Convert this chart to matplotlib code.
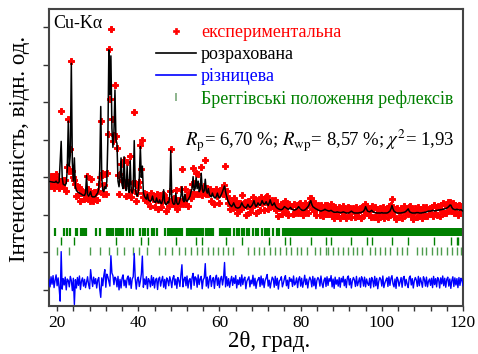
import numpy as np
import matplotlib
matplotlib.use('Agg')
import matplotlib.pyplot as plt
from matplotlib.lines import Line2D
from matplotlib.ticker import MultipleLocator

plt.rcParams['font.family'] = ['Liberation Serif', 'DejaVu Serif']
plt.rcParams['mathtext.fontset'] = 'stix'

# ---------------- data ----------------
two_theta_low = np.linspace(18.0, 62.0, 177)       # 0.25 deg step
two_theta_high = np.linspace(62.25, 120.0, 232)    # 0.25 deg step

calc_low = [
    289, 289, 288, 288, 287, 287, 287, 290, 286, 285, 288, 340,
    396, 300, 282, 280, 279, 285, 320, 450, 330, 360, 604, 340,
    290, 352, 275, 265, 262, 260, 258, 257, 255, 253, 252, 252,
    258, 305, 255, 250, 255, 262, 250, 248, 248, 248, 250, 255,
    258, 270, 320, 489, 300, 265, 262, 275, 270, 290, 400, 640,
    520, 624, 430, 380, 420, 533, 400, 390, 290, 275, 300, 352,
    280, 270, 355, 275, 265, 330, 270, 260, 345, 265, 258, 270,
    398, 275, 255, 250, 260, 300, 382, 300, 330, 260, 250, 245,
    242, 255, 240, 238, 236, 240, 250, 238, 235, 233, 245, 235,
    232, 240, 232, 230, 240, 267, 235, 228, 228, 235, 232, 250,
    371, 245, 232, 228, 230, 258, 232, 228, 230, 240, 250, 275,
    240, 235, 255, 238, 236, 240, 245, 250, 262, 270, 302, 265,
    270, 300, 270, 290, 262, 268, 311, 270, 260, 265, 295, 265,
    258, 270, 255, 250, 248, 258, 250, 246, 245, 250, 258, 248,
    245, 250, 255, 262, 270, 277, 262, 250, 240]
calc_high = [
    234, 228, 225, 222, 226, 232, 225, 220, 219, 218, 219, 220,
    225, 232, 226, 222, 220, 218, 222, 228, 223, 220, 222, 225,
    230, 238, 228, 222, 226, 232, 228, 225, 230, 238, 232, 228,
    230, 235, 229, 225, 232, 240, 230, 225, 228, 232, 225, 220,
    218, 216, 215, 214, 214, 215, 218, 222, 220, 218, 216, 215,
    217, 220, 216, 214, 213, 213, 214, 215, 218, 222, 218, 215,
    213, 212, 212, 213, 215, 218, 221, 225, 232, 238, 228, 222,
    220, 218, 216, 215, 213, 212, 211, 210, 211, 212, 213, 215,
    213, 212, 211, 210, 211, 212, 210, 208, 207, 207, 207, 208,
    207, 207, 206, 206, 207, 208, 207, 206, 205, 205, 205, 206,
    208, 210, 208, 206, 205, 205, 205, 205, 205, 206, 206, 207,
    208, 210, 214, 222, 215, 210, 209, 208, 210, 212, 209, 207,
    206, 206, 205, 205, 205, 205, 205, 206, 205, 205, 205, 205,
    205, 206, 208, 210, 216, 225, 216, 210, 208, 206, 205, 205,
    205, 205, 205, 206, 206, 207, 208, 210, 213, 216, 210, 207,
    206, 205, 205, 205, 205, 206, 206, 206, 205, 205, 205, 206,
    206, 207, 207, 208, 209, 210, 210, 210, 211, 212, 211, 211,
    211, 212, 212, 213, 213, 214, 214, 215, 215, 216, 217, 218,
    220, 222, 226, 226, 220, 216, 215, 214, 214, 215, 214, 213,
    213, 214, 212, 210]

diff_low = [
    8, -12, 15, -5, 18, -14, 6, 20, -9, 12, -16, -50,
    82, -18, 10, -7, 14, -20, 9, 5, -12, 16, 5, -22,
    11, -59, 7, -15, 13, -8, 17, -19, 4, 12, -10, 8,
    -14, 0, 15, -6, -17, 34, 9, -11, 14, -4, 10, -15,
    6, 13, -18, -40, 12, -9, 18, 34, -13, 22, 15, 2,
    -10, 71, 25, 18, -6, 14, 10, -12, 16, -20, 8, -15,
    12, 20, -9, 6, -14, 11, 17, -7, 13, -16, 9, 15,
    77, 10, -18, 8, 14, -11, 3, 22, 70, -13, 9, -6,
    15, -17, 10, 4, -12, 18, -8, 13, -15, 7, 11, -19,
    9, 14, -10, 5, 16, -13, 8, -17, 12, 6, -9, 15,
    4, -14, 11, 18, -7, 9, -16, 13, 5, -11, 20, 47,
    -12, 8, 14, -9, 17, -15, 6, 10, -18, 13, 24, -8,
    15, 11, -13, 20, -6, 9, 16, -17, 7, 12, 50, -10,
    14, -15, 8, 18, -11, 6, 13, -16, 10, 19, -8, 12,
    -14, 9, 16, -7, 11, 53, -12, 15, -9]
diff_high = [
    10, -13, 4, 16, -8, 12, -3, 18, -15, 7, -6, 13,
    -10, 20, -6, 9, 14, -17, 3, 9, 15, -12, 6, -4,
    19, -9, 11, -16, 2, 8, 13, -11, 17, -7, 10, -14,
    5, 12, 21, -10, 6, -15, 1, 14, 9, -13, 16, -8,
    11, -18, 4, 7, 15, -12, -2, 10, 18, -9, 6, -16,
    13, 3, 9, -11, 17, -7, -1, 12, -14, 8, 15, -10,
    11, -13, 2, 19, -6, 9, -15, 4, 14, 7, -12, 16,
    -9, 11, -17, 5, 13, 8, -10, 17, -3, -14, 6, 12,
    -11, 15, -8, 10, 3, 18, -12, 9, -16, 14, -5, 7,
    -10, 13, -13, 11, 1, 16, -9, 8, -14, 12, 17, -7,
    10, -15, 4, 13, 6, -11, 16, -9, 2, 12, -13, 15,
    8, -10, 14, -12, 9, -3, -8, 11, -15, 13, 6, -12,
    16, -9, 11, -17, 3, 13, 8, -10, 17, -14, -2, 6,
    12, -11, 15, -8, 10, 18, -4, -12, 9, -16, 14, 7,
    -10, 2, 13, -13, 11, 16, -9, 8, -5, -14, 12, 17,
    -7, 10, -15, 4, 13, 6, -11, 16, -9, 12, 1, -13,
    15, 8, -10, 14, -12, 3, 9, -8, 11, -14, 16, -6,
    10, -12, 13, 7, -15, 12, -4, 17, -9, 11, -13, 8,
    14, -10, 9, -16, 5, 15, -11, 12, -7, 10, -14, 13,
    -8, 11, 6, -9]
diff_offset = 20

bragg_phase1 = [
    19.5, 21.7, 22.4, 23.2, 24.7, 25.0, 25.9, 26.3, 26.8, 27.2, 29.6, 30.5,
    32.2, 32.5, 32.8, 33.1, 33.3, 33.7, 34.6, 35.1, 35.6, 35.9, 36.3, 37.1,
    37.9, 38.6, 40.4, 41.1, 41.6, 42.5, 43.3, 43.9, 44.7, 46.5, 47.3, 47.8,
    48.4, 48.8, 49.2, 49.7, 50.2, 50.7, 52.0, 52.5, 52.9, 53.4, 53.9, 54.4,
    54.9, 55.4, 56.0, 56.7, 57.2, 57.7, 58.1, 58.5, 60.2, 60.5, 60.8, 61.1,
    61.4, 61.7, 62.0, 62.3, 62.6, 63.6, 64.2, 64.9, 65.5, 66.0, 66.7, 67.3,
    68.3, 69.0, 69.6, 70.4, 71.2, 71.8, 72.3, 73.1, 74.1, 74.7, 75.6, 75.9,
    76.3, 76.6, 77.0, 77.4, 77.7, 78.1, 78.4, 78.8, 79.2, 79.5, 79.9, 80.2,
    80.6, 80.9, 81.3, 81.7, 82.0, 82.4, 82.7, 83.1, 83.5, 83.8, 84.2, 84.5,
    84.9, 85.2, 85.6, 86.0, 86.3, 86.7, 87.0, 87.4, 87.8, 88.1, 88.5, 88.8,
    89.2, 89.5, 89.9, 90.3, 90.6, 91.0, 91.3, 91.7, 92.0, 92.4, 92.8, 93.1,
    93.5, 93.8, 94.2, 94.6, 94.9, 95.3, 95.6, 96.0, 96.3, 96.7, 97.1, 97.4,
    97.8, 98.1, 98.5, 98.8, 99.2, 99.6, 99.9, 100.3, 100.6, 101.0, 101.3,
    101.7, 102.1, 102.4, 102.8, 103.1, 103.5, 103.8, 104.2, 104.6, 104.9,
    105.3, 105.6, 106.0, 106.3, 106.7, 107.1, 107.4, 107.8, 108.1, 108.5,
    108.8, 109.2, 109.6, 109.9, 110.3, 110.6, 111.0, 111.3, 111.7, 112.1,
    112.4, 112.8, 113.1, 113.5, 113.8, 114.2, 114.6, 114.9, 115.3, 115.6,
    116.0, 116.3, 116.7, 117.1, 117.4, 117.8, 118.1, 118.5, 118.8, 119.2,
    119.6, 119.9]
bragg_phase2 = [20.9, 24.1, 34.4, 40.6, 42.3, 49.3, 54.1, 55.6, 61.5, 65.6,
                72.3, 76.1, 77.4, 82.5, 86.2, 87.6, 92.4, 96.3, 97.5, 102.6,
                106.4, 112.9, 117.0, 118.4, 118.8]
bragg_phase3 = [19.9, 23.0, 28.1, 30.6, 32.7, 34.7, 36.6, 38.6, 40.2, 42.1,
                45.2, 46.7, 48.4, 50.0, 51.5, 53.1, 54.5, 55.8, 57.1, 58.3,
                59.6, 60.8, 62.2, 63.4, 67.1, 68.5, 69.7, 71.0, 72.4, 73.7,
                74.9, 76.4, 77.6, 79.0, 80.2, 81.6, 83.5, 84.7, 86.2, 86.8,
                88.0, 89.3, 90.5, 91.7, 92.8, 94.0, 95.0, 97.1, 98.3, 99.5,
                100.8, 102.0, 103.8, 104.9, 106.3, 108.6, 109.8, 111.0, 112.3,
                113.5, 114.7, 116.0, 117.2, 118.4, 119.6]

labels = ['експериментальна', 'розрахована', 'різницева',
          'Бреггівські положення рефлексів']
label_colors = ['#ff0000', '#000000', '#0000ff', '#008000']

assert len(calc_low) == len(two_theta_low) == len(diff_low)
assert len(calc_high) == len(two_theta_high) == len(diff_high)

two_theta = np.concatenate([two_theta_low, two_theta_high])
calc = np.array(calc_low + calc_high, dtype=float)
diff = np.array(diff_low + diff_high, dtype=float)
obs = calc + diff

# ---------------- figure ----------------
W, H = 478, 354
fig = plt.figure(figsize=(W / 100, H / 100), dpi=100)
ax = fig.add_axes([49 / W, (H - 306) / H, 414 / W, 297 / H])

ax.plot(two_theta, obs, ls='none', marker='P', ms=4.8, mew=0.7,
        color='#ff0000', zorder=2)
ax.plot(two_theta, calc, color='#000000', lw=1.1, zorder=3)
ax.plot(two_theta, diff + diff_offset, color='#0000ff', lw=1.0, zorder=3)

ax.vlines(bragg_phase1, 143.5, 164.8, color='#008000', lw=1.6, zorder=2)
ax.vlines(bragg_phase2, 119.5, 140.8, color='#008000', lw=1.0, zorder=2)
ax.vlines(bragg_phase3, 92.8, 114.1, color='#2e8b2e', lw=1.0, alpha=0.85,
          zorder=2)

ax.set_xlim(18, 120)
ax.set_ylim(-43, 749)

ax.xaxis.set_major_locator(MultipleLocator(20))
ax.xaxis.set_minor_locator(MultipleLocator(4))
ax.set_yticks(np.arange(0, 701, 100))
ax.set_yticklabels([])
ax.tick_params(axis='x', which='both', direction='out', length=3.5,
               width=1.0, color='#333333', labelsize=12.5, pad=3,
               top=False)
ax.tick_params(axis='y', which='both', direction='out', length=4.5,
               width=1.0, color='#333333', right=False)
for s in ax.spines.values():
    s.set_color('#444444')
    s.set_linewidth(1.5)

ax.set_xlabel('2θ, град.', fontsize=16.5, va='center')
ax.xaxis.set_label_coords((269.5 - 49) / 414, -35 / 297)
ax.set_ylabel('Інтенсивність, відн. од.', fontsize=16.5, va='center')
ax.yaxis.set_label_coords((20 - 49) / 414, (306 - 148.5) / 297)

handles = [
    Line2D([], [], ls='none', marker='P', ms=4.5, mew=0.5, color='#ff0000'),
    Line2D([], [], color='#000000', lw=1.2),
    Line2D([], [], color='#0000ff', lw=1.2),
    Line2D([], [], ls='none', marker='|', ms=6, mew=1.2, color='#7aa87a'),
]
leg = ax.legend(handles, labels, loc='upper left',
                bbox_to_anchor=(156 / W, 1 - 24 / H),
                bbox_transform=fig.transFigure, frameon=False,
                fontsize=13, handlelength=2.2, handletextpad=0.3,
                labelspacing=0.28, borderpad=0, borderaxespad=0)
for t, c in zip(leg.get_texts(), label_colors):
    t.set_color(c)

fig.text(53 / W, 1 - 24 / H, 'Cu-Kα', fontsize=13, va='center', ha='left')
fig.text(185 / W, 1 - 141 / H,
         r'$R_{\mathrm{p}}$= 6,70 %; $R_{\mathrm{wp}}$= 8,57 %; $\chi^{2}$= 1,93',
         fontsize=13.5, va='center', ha='left')

fig.savefig('out.png', dpi=100)
